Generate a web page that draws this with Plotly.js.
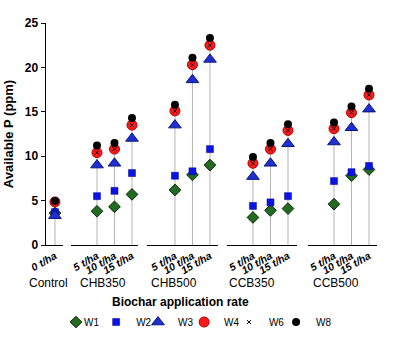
<!DOCTYPE html>
<html>
<head>
<meta charset="utf-8">
<script src="https://cdn.plot.ly/plotly-3.0.1.min.js"></script>
<style>html,body{margin:0;padding:0;background:#fff;}#chart{width:393px;height:342px;}</style>
</head>
<body>
<div id="chart"></div>
<script>
// Groups and their application rates
const groups = ["Control", "CHB350", "CHB500", "CCB350", "CCB500"];
const rates = [["0 t/ha"], ["5 t/ha", "10 t/ha", "15 t/ha"], ["5 t/ha", "10 t/ha", "15 t/ha"], ["5 t/ha", "10 t/ha", "15 t/ha"], ["5 t/ha", "10 t/ha", "15 t/ha"]];

// Available P (ppm), per group, per rate
const W1 = [[3.6], [3.8, 4.3, 5.7], [6.2, 7.9, 9.0], [3.1, 3.9, 4.1], [4.6, 7.8, 8.5]];
const W2 = [[3.7], [5.5, 6.1, 8.1], [7.8, 8.3, 10.8], [4.4, 4.8, 5.5], [7.2, 8.2, 8.9]];
const W3 = [[3.3], [9.0, 9.2, 12.0], [13.5, 18.6, 20.9], [7.7, 9.2, 11.4], [11.6, 13.2, 15.3]];
const W4 = [[4.85], [10.4, 10.8, 13.5], [15.1, 20.3, 22.5], [9.2, 10.8, 12.9], [13.1, 14.9, 16.9]];
const W6 = [[4.85], [10.4, 10.8, 13.5], [15.1, 20.3, 22.5], [9.2, 10.8, 12.9], [13.1, 14.9, 16.9]];
const W8 = [[4.95], [11.2, 11.5, 14.3], [15.8, 21.1, 23.3], [9.9, 11.5, 13.6], [13.8, 15.6, 17.6]];

const FONT = "Liberation Sans, Arial, sans-serif";

const series = [
  {name: "W1", data: W1, marker: {symbol: "diamond", size: 9, color: "#236b23", line: {color: "#0a2a0a", width: 1}}},
  {name: "W2", data: W2, marker: {symbol: "square", size: 7, color: "#0a14e6", line: {color: "#00008a", width: 0.5}}},
  {name: "W3", data: W3, marker: {symbol: "triangle-up", size: 11, color: "#1f2fd0", line: {color: "#0a1580", width: 1}}},
  {name: "W4", data: W4, marker: {symbol: "circle", size: 10, color: "#ff1a1a", line: {color: "#b00000", width: 1}}},
  {name: "W6", data: W6, marker: {symbol: "x-thin", size: 4, color: "#000", line: {color: "#000", width: 1}}},
  {name: "W8", data: W8, marker: {symbol: "circle", size: 8, color: "#000", line: {color: "#000", width: 0}}}
];

const axisIds = ["x", "x2", "x3", "x4", "x5"];
const domains = [[0, 0.051], [0.0753, 0.277], [0.304, 0.518], [0.545, 0.756], [0.789, 0.997]];
const ranges = [[-0.514, 0.457], [-1.486, 2.343], [-1.6, 2.457], [-1.486, 2.514], [-1.486, 2.457]];
const legendIds = ["legend", "legend2", "legend3", "legend4", "legend5", "legend6"];
const legendX = [0.030, 0.151, 0.277, 0.416, 0.551, 0.693];

const traces = [];
// gray stems from 0 to top value
groups.forEach((g, gi) => {
  traces.push({
    type: "scatter", mode: "markers", x: rates[gi], y: W8[gi], xaxis: axisIds[gi], yaxis: "y",
    marker: {opacity: 0, size: 1}, showlegend: false, hoverinfo: "skip",
    error_y: {type: "data", symmetric: false, array: W8[gi].map(() => 0), arrayminus: W8[gi], color: "#b4b4b4", thickness: 1, width: 0}
  });
});
series.forEach((s, si) => {
  groups.forEach((g, gi) => {
    traces.push({
      type: "scatter", mode: "markers", name: s.name, showlegend: gi === 0, legend: legendIds[si],
      x: rates[gi], y: s.data[gi], xaxis: axisIds[gi], yaxis: "y", marker: s.marker, cliponaxis: false
    });
  });
});

const layout = {
  width: 393, height: 342,
  margin: {l: 46, r: 15, t: 23, b: 97, autoexpand: false},
  paper_bgcolor: "#fff", plot_bgcolor: "#fff",
  font: {family: FONT, color: "#000", size: 11},
  showlegend: true,
  yaxis: {
    range: [0, 25], tickvals: [0, 5, 10, 15, 20, 25], showgrid: false, zeroline: false,
    showline: true, linecolor: "#000", linewidth: 1.5, ticks: "outside", ticklen: 4, tickcolor: "#000",
    tickfont: {family: FONT, size: 12, weight: "bold"}, anchor: "x",
    title: {text: "Available P (ppm)", font: {family: FONT, size: 13, weight: "bold"}, standoff: 8}
  },
  annotations: []
};
legendIds.forEach((id, i) => {
  layout[id] = {orientation: "h", x: legendX[i], xanchor: "left", y: -0.347, yanchor: "middle",
    font: {family: FONT, size: 10, color: "#000"}, itemwidth: 30, bgcolor: "rgba(0,0,0,0)"};
});
axisIds.forEach((id, gi) => {
  const key = gi === 0 ? "xaxis" : "xaxis" + (gi + 1);
  layout[key] = {
    type: "category", domain: domains[gi], range: ranges[gi], anchor: "y",
    showgrid: false, zeroline: false, showline: true, linecolor: "#000", linewidth: 1,
    ticks: "", tickangle: -30, tickfont: {family: FONT, size: 10.5, weight: "bold", style: "italic"}
  };
});
const groupLabelX = [-0.057, 0.096, 0.310, 0.545, 0.798];
groups.forEach((g, gi) => {
  layout.annotations.push({text: g, xref: "paper", yref: "paper", x: groupLabelX[gi], y: -0.171,
    xanchor: "left", yanchor: "middle", showarrow: false, font: {family: FONT, size: 12, color: "#000"}});
});
layout.annotations.push({text: "Biochar application rate", xref: "paper", yref: "paper", x: 0.404, y: -0.257,
  xanchor: "center", yanchor: "middle", showarrow: false, font: {family: FONT, size: 12, weight: "bold", color: "#000"}});

Plotly.newPlot("chart", traces, layout, {displayModeBar: false, staticPlot: true}).then(() => {
  // tighten gap between legend symbol and its label
  document.querySelectorAll("#chart .legendtext").forEach(t => t.setAttribute("x", 28));
});
</script>
</body>
</html>
